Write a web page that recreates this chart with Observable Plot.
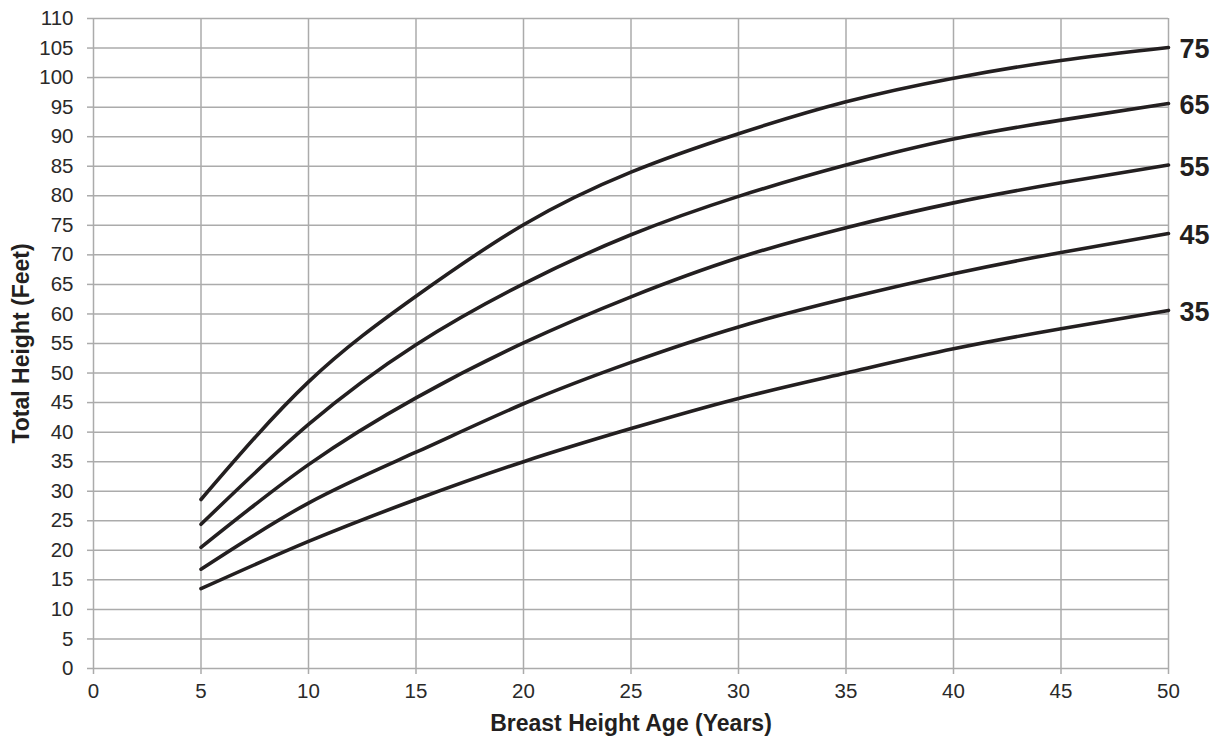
<!DOCTYPE html>
<html>
<head>
<meta charset="utf-8">
<script src="https://cdn.jsdelivr.net/npm/d3@7"></script>
<script src="https://cdn.jsdelivr.net/npm/@observablehq/plot@0.6"></script>
<style>
  html, body { margin: 0; padding: 0; background: #fff; }
  #chart svg { display: block; }
</style>
</head>
<body>
<div id="chart"></div>
<script>
// Data
const ages = [5, 10, 15, 20, 25, 30, 35, 40, 45, 50];
const siteIndices = [35, 45, 55, 65, 75];
const site35 = [13.5, 21.5, 28.6, 35.0, 40.6, 45.7, 50.0, 54.1, 57.5, 60.6];
const site45 = [16.8, 28.0, 36.6, 44.8, 51.8, 57.8, 62.6, 66.8, 70.4, 73.6];
const site55 = [20.5, 34.5, 45.8, 55.1, 62.9, 69.5, 74.6, 78.8, 82.2, 85.2];
const site65 = [24.4, 41.3, 54.8, 65.1, 73.4, 79.9, 85.2, 89.6, 92.8, 95.6];
const site75 = [28.6, 48.5, 63.0, 75.1, 84.0, 90.5, 95.9, 99.9, 102.9, 105.1];
const xTicks = [0, 5, 10, 15, 20, 25, 30, 35, 40, 45, 50];
const yTicks = [0, 5, 10, 15, 20, 25, 30, 35, 40, 45, 50, 55, 60, 65, 70, 75, 80, 85, 90, 95, 100, 105, 110];
const xLabel = "Breast Height Age (Years)";
const yLabel = "Total Height (Feet)";

const seriesValues = [site35, site45, site55, site65, site75];
const rows = [];
siteIndices.forEach((s, i) => {
  ages.forEach((a, j) => rows.push({site: s, age: a, height: seriesValues[i][j]}));
});
const ends = siteIndices.map((s, i) => ({site: s, age: ages[ages.length - 1], height: seriesValues[i][ages.length - 1]}));

const gridColor = "#ababab";
const ink = "#231f20";

const chart = Plot.plot({
  width: 1223,
  height: 745,
  marginLeft: 93,
  marginRight: 55,
  marginTop: 18,
  marginBottom: 77,
  style: {fontFamily: "'Liberation Sans', Arial, sans-serif", fontSize: "20.5px", color: ink, background: "#fff"},
  x: {domain: [0, 50]},
  y: {domain: [0, 110]},
  marks: [
    Plot.gridX(xTicks, {stroke: gridColor, strokeOpacity: 1, strokeWidth: 1.5}),
    Plot.gridY(yTicks, {stroke: gridColor, strokeOpacity: 1, strokeWidth: 1.5}),
    Plot.axisX(xTicks, {tickSize: 6, tickPadding: 9, stroke: gridColor, strokeWidth: 1.5, fill: "#2a2a2a", label: null, fontSize: 20.5}),
    Plot.axisY(yTicks, {tickSize: 6, tickPadding: 14, stroke: gridColor, strokeWidth: 1.5, fill: "#2a2a2a", label: null, fontSize: 20.5}),
    Plot.line(rows, {x: "age", y: "height", z: "site", stroke: ink, strokeWidth: 3.6, curve: "natural"}),
    Plot.text(ends, {x: "age", y: "height", text: d => String(d.site), dx: 11, dy: 2, textAnchor: "start", fontWeight: "bold", fontSize: 27, fill: ink}),
    Plot.text([xLabel], {frameAnchor: "bottom", dy: 62, textAnchor: "middle", fontWeight: "bold", fontSize: 23, fill: ink}),
    Plot.text([yLabel], {frameAnchor: "left", dx: -72, textAnchor: "middle", rotate: -90, fontWeight: "bold", fontSize: 23, fill: ink})
  ]
});
document.getElementById("chart").appendChild(chart);
</script>
</body>
</html>
